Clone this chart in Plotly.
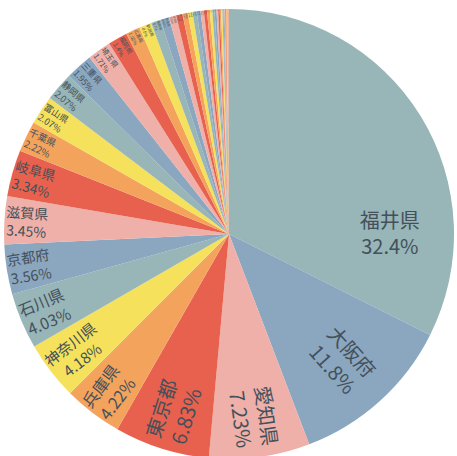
import plotly.graph_objects as go

prefectures = [
    "福井県", "大阪府", "愛知県", "東京都", "兵庫県", "神奈川県", "石川県", "京都府",
    "滋賀県", "岐阜県", "千葉県", "富山県", "静岡県", "三重県", "埼玉県",
    "福岡県", "広島県", "新潟県", "長野県", "奈良県", "茨城県", "岡山県", "北海道",
    "群馬県", "栃木県", "宮城県", "和歌山県", "山梨県", "愛媛県", "熊本県", "香川県",
    "福島県", "山口県", "徳島県", "大分県", "鹿児島県", "長崎県", "佐賀県", "島根県",
    "鳥取県", "宮崎県", "山形県", "岩手県", "秋田県", "青森県", "高知県", "沖縄県",
]

shares = [
    32.4, 11.8, 7.23, 6.83, 4.22, 4.18, 4.03, 3.56,
    3.45, 3.34, 2.22, 2.07, 2.07, 1.95, 1.71,
    1.40, 1.02, 0.90, 0.70, 0.62, 0.52, 0.46, 0.38,
    0.34, 0.30, 0.27, 0.24, 0.22, 0.20, 0.18, 0.16,
    0.14, 0.12, 0.11, 0.10, 0.09, 0.08, 0.07, 0.06,
    0.05, 0.05, 0.04, 0.03, 0.03, 0.02, 0.02, 0.02,
]

palette = ["#98b5b8", "#8ba7c0", "#eeb0a8", "#e8614e", "#f4a35c", "#f5e15b"]
colors = [palette[i % len(palette)] for i in range(len(prefectures))]

label_tpl = "%{label}<br>%{percent}"
font = dict(family="Noto Sans CJK JP", size=20, color="#44505a")

# main pie: radial labels for every slice except the largest
radial_tpl = ["" if i == 0 else label_tpl for i in range(len(prefectures))]
# overlay (transparent): horizontal label only for the largest slice
horiz_tpl = [label_tpl if i == 0 else "" for i in range(len(prefectures))]

fig = go.Figure()
fig.add_trace(
    go.Pie(
        labels=prefectures,
        values=shares,
        sort=False,
        direction="clockwise",
        rotation=0,
        texttemplate=radial_tpl,
        textposition="inside",
        insidetextorientation="radial",
        marker=dict(colors=colors, line=dict(width=0)),
        textfont=font,
        showlegend=False,
        hoverinfo="label+percent",
    )
)
fig.add_trace(
    go.Pie(
        labels=prefectures,
        values=shares,
        sort=False,
        direction="clockwise",
        rotation=31,
        hole=0.43,
        texttemplate=horiz_tpl,
        textposition="inside",
        insidetextorientation="horizontal",
        marker=dict(colors=["rgba(0,0,0,0)"] * len(prefectures), line=dict(width=0)),
        textfont=font,
        showlegend=False,
        hoverinfo="skip",
    )
)

fig.update_layout(
    width=457,
    height=460,
    margin=dict(l=4, r=3, t=9, b=1),
    paper_bgcolor="white",
    plot_bgcolor="white",
    font=dict(family="Noto Sans CJK JP"),
)

fig.write_html(
    "out.html",
    config={"displayModeBar": False},
    post_script="document.body.style.margin='0';document.body.style.overflow='hidden';",
)
